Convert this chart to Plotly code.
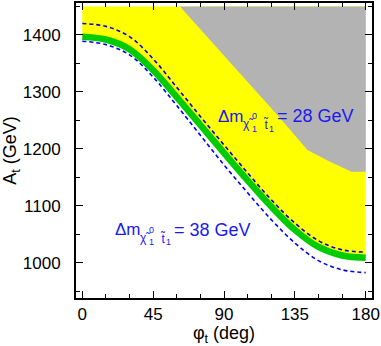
import plotly.graph_objects as go

# ---- data ----
phi = [0, 15, 30, 45, 60, 75, 90, 105, 120, 135, 150, 165, 180]
at_green = [1397, 1392, 1375, 1338, 1291, 1242, 1193, 1145, 1099, 1058, 1028, 1013, 1009]
at_dm28 = [1420, 1415, 1397, 1358, 1308, 1257, 1207, 1158, 1111, 1070, 1039, 1023, 1019]
at_dm38 = [1389, 1383, 1365, 1326, 1276, 1224, 1172, 1123, 1076, 1035, 1004, 988, 983]
top_phi = [0, 180]
top_at = [1450, 1450]
gray_phi = [62, 80, 103, 125, 143, 157, 171, 180, 180]
gray_at = [1450, 1395, 1324, 1256, 1198, 1178, 1160, 1160, 1450]
x_ticks = [0, 45, 90, 135, 180]
y_ticks = [1000, 1100, 1200, 1300, 1400]
labels = [("28 GeV", 86.5, 1246.7), ("38 GeV", 20.9, 1047.5)]

YELLOW = "#ffff00"
GRAY = "#b3b3b3"
GREEN = "#00cc00"
BLUE = "#0000ee"
TEXTBLUE = "#1a1aee"
FONT = "Liberation Sans, Arial, Helvetica, sans-serif"

fig = go.Figure()
fig.add_trace(go.Scatter(x=top_phi, y=top_at, mode="lines", line=dict(width=0, color=YELLOW),
                         hoverinfo="skip", showlegend=False))
fig.add_trace(go.Scatter(x=phi, y=at_green, mode="lines", fill="tonexty", fillcolor=YELLOW,
                         line=dict(width=0, color=YELLOW, shape="spline"),
                         hoverinfo="skip", showlegend=False))
fig.add_trace(go.Scatter(x=gray_phi, y=gray_at, mode="lines", fill="toself", fillcolor=GRAY,
                         line=dict(width=0, color=GRAY), hoverinfo="skip", showlegend=False))
fig.add_trace(go.Scatter(x=phi, y=at_dm38, mode="lines",
                         line=dict(width=1.6, color=BLUE, dash="4px,3px", shape="spline"),
                         showlegend=False))
fig.add_trace(go.Scatter(x=phi, y=at_dm28, mode="lines",
                         line=dict(width=1.6, color=BLUE, dash="4px,3px", shape="spline"),
                         showlegend=False))
fig.add_trace(go.Scatter(x=phi, y=at_green, mode="lines",
                         line=dict(width=6.5, color=GREEN, shape="spline"),
                         showlegend=False))


def add_label(value_text, x, y):
    parts = [
        ("Δm", 17, 0, 0),
        ("χ\u0303", 12, 25, 6),
        ("0", 9, 33.5, -3),
        ("1", 9, 33.5, 9.5),
        ("t\u0303", 12, 45, 6.5),
        ("1", 9, 50.5, 9.5),
        ("= " + value_text, 18, 58.5, 0),
    ]
    for text, size, dx, dbase in parts:
        fig.add_annotation(x=x, y=y, xref="x", yref="y", text=text, showarrow=False,
                           xanchor="left", yanchor="middle", borderpad=0, borderwidth=0,
                           xshift=dx, yshift=0.35 * size - dbase,
                           font=dict(family=FONT, size=size, color=TEXTBLUE))


for txt, lx, ly in labels:
    add_label(txt, lx, ly)

axis_common = dict(
    showline=True, linewidth=2, linecolor="black", mirror="allticks",
    ticks="inside", ticklen=7, tickwidth=1.3, tickcolor="black",
    showgrid=False, zeroline=False, automargin=False,
    tickfont=dict(family=FONT, size=17, color="black"),
)

fig.update_xaxes(range=[-4, 184], tickvals=x_ticks, ticktext=[str(v) for v in x_ticks],
                 minor=dict(dtick=15, tick0=0, ticks="inside", ticklen=4, tickcolor="black", tickwidth=1.2),
                 title=dict(text="φ<sub>t</sub> (deg)", font=dict(family=FONT, size=18, color="black"), standoff=3),
                 ticklabelstandoff=0, **axis_common)
fig.update_yaxes(range=[938.5, 1456], tickvals=y_ticks, ticktext=[str(v) for v in y_ticks],
                 minor=dict(dtick=50, tick0=1000, ticks="inside", ticklen=4, tickcolor="black", tickwidth=1.2),
                 title=dict(text="A<sub>t</sub> (GeV)", font=dict(family=FONT, size=18, color="black"), standoff=1),
                 ticklabelstandoff=10, **axis_common)

fig.update_layout(width=381, height=346, margin=dict(l=76, r=9, t=3, b=48),
                  plot_bgcolor="white", paper_bgcolor="white")

fig.write_html("out.html", config={"displayModeBar": False},
               post_script="document.body.style.margin='0';document.body.style.overflow='hidden';")
